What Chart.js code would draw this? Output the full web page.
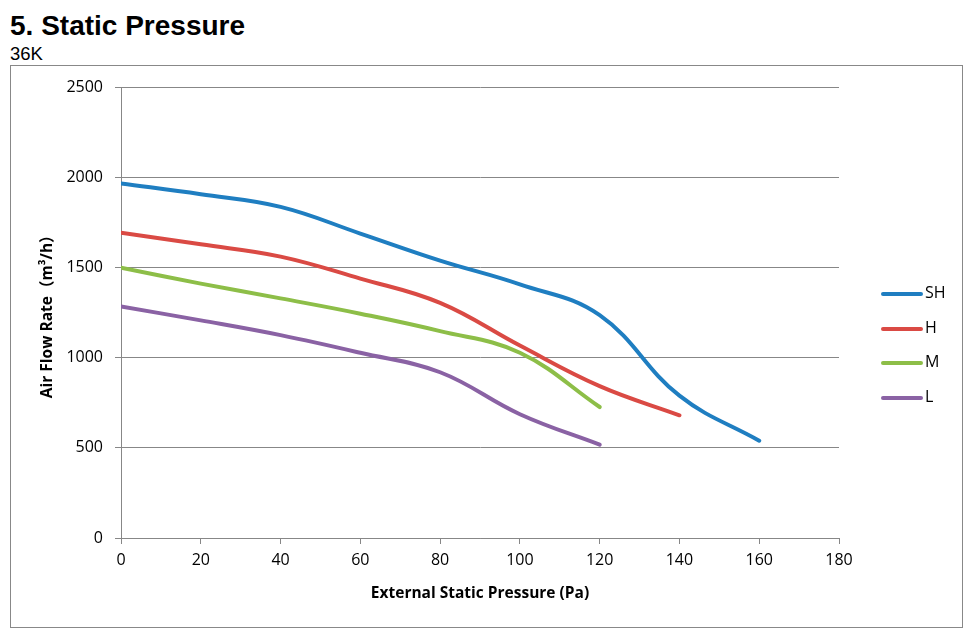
<!DOCTYPE html>
<html>
<head>
<meta charset="utf-8">
<script src="https://cdn.jsdelivr.net/npm/chart.js@4"></script>
<style>
  body { margin: 0; background: #fff; font-family: "Liberation Sans", Arial, sans-serif; }
  #title { position: absolute; left: 10px; top: 12px; font-size: 28px; line-height: 28px; font-weight: bold; color: #000; }
  #sub { position: absolute; left: 10px; top: 45px; font-size: 18.5px; line-height: 18.5px; color: #000; }
  #box { position: absolute; left: 10px; top: 65px; width: 951px; height: 561px; border: 1px solid #888; }
  #myChart { position: absolute; left: 0; top: 0; }
  .lg { position: absolute; font-family: "Open Sans", sans-serif; font-size: 16px; color: #000; }
  .lg span.sw { position: absolute; left: 0; width: 42px; height: 4px; border-radius: 2px; }
  .lg span.tx { position: absolute; left: 44px; top: -11px; line-height: 22px; }
</style>
</head>
<body>
<div id="title">5. Static Pressure</div>
<div id="sub">36K</div>
<div id="box">
  <canvas id="myChart" width="951" height="561"></canvas>
</div>
<script>
// External static pressure (Pa) and air flow (m3/h) per fan speed
var pressure = [0, 20, 40, 60, 80, 100, 120, 140, 160];
var flowSH = [1968, 1908, 1838, 1690, 1540, 1408, 1237, 790, 540];
var flowH = [1695, 1630, 1562, 1440, 1305, 1068, 843, 681];
var flowM = [1500, 1412, 1330, 1245, 1148, 1028, 727];
var flowL = [1285, 1208, 1126, 1028, 920, 687, 518];
var seriesNames = ['SH', 'H', 'M', 'L'];
var seriesColors = ['#1F7EC1', '#DA4A44', '#8DBE48', '#8A62A4'];
var yTicks = [0, 500, 1000, 1500, 2000, 2500];
var xTicks = [0, 20, 40, 60, 80, 100, 120, 140, 160, 180];

var allFlows = [flowSH, flowH, flowM, flowL];
var gridGray = '#878787';
var titleFont = { family: '"Open Sans", "Noto Sans CJK SC"', size: 15.5, weight: 'bold' };

function points(vals) {
  return vals.map(function (v, i) { return { x: pressure[i], y: v }; });
}

var ctx = document.getElementById('myChart').getContext('2d');
var myChart = new Chart(ctx, {
  type: 'line',
  data: {
    datasets: allFlows.map(function (vals, i) {
      return {
        label: seriesNames[i],
        data: points(vals),
        borderColor: seriesColors[i],
        backgroundColor: seriesColors[i],
        borderWidth: 4,
        borderCapStyle: 'round',
        pointRadius: 0,
        tension: 0.4,
        fill: false
      };
    })
  },
  options: {
    responsive: false,
    animation: false,
    layout: { padding: { top: 21, right: 123, left: 0, bottom: 0 } },
    plugins: {
      legend: { display: false },
      tooltip: { enabled: false }
    },
    scales: {
      x: {
        type: 'linear',
        min: xTicks[0],
        max: xTicks[xTicks.length - 1],
        afterBuildTicks: function (s) { s.ticks = xTicks.map(function (v) { return { value: v }; }); },
        afterFit: function (s) { s.height = 89; },
        ticks: { color: '#000', padding: 7, font: { family: 'Open Sans', size: 16 },
                 callback: function (v) { return String(v); } },
        grid: { drawOnChartArea: false, tickLength: 6, color: gridGray },
        border: { color: gridGray },
        title: {
          display: true,
          text: 'External Static Pressure (Pa)',
          color: '#000',
          font: titleFont,
          padding: { top: 0, bottom: 24 }
        }
      },
      y: {
        min: yTicks[0],
        max: yTicks[yTicks.length - 1],
        afterBuildTicks: function (s) { s.ticks = yTicks.map(function (v) { return { value: v }; }); },
        afterFit: function (s) { s.width = 110; },
        ticks: { color: '#000', padding: 12, font: { family: 'Open Sans', size: 16 },
                 callback: function (v) { return String(v); } },
        grid: { color: gridGray, tickLength: 6 },
        border: { color: gridGray },
        title: {
          display: true,
          text: 'Air Flow Rate（m³/h）',
          color: '#000',
          font: titleFont,
          padding: { top: 27, bottom: 0 }
        }
      }
    }
  }
});

// legend on the right, one row per series
var legendY = [294, 329, 363, 398];
seriesNames.forEach(function (name, i) {
  var d = document.createElement('div');
  d.className = 'lg';
  d.style.left = '881px';
  d.style.top = (legendY[i] - 2) + 'px';
  d.innerHTML = '<span class="sw" style="background:' + seriesColors[i] + '"></span><span class="tx">' + name + '</span>';
  document.body.appendChild(d);
});
</script>
</body>
</html>
